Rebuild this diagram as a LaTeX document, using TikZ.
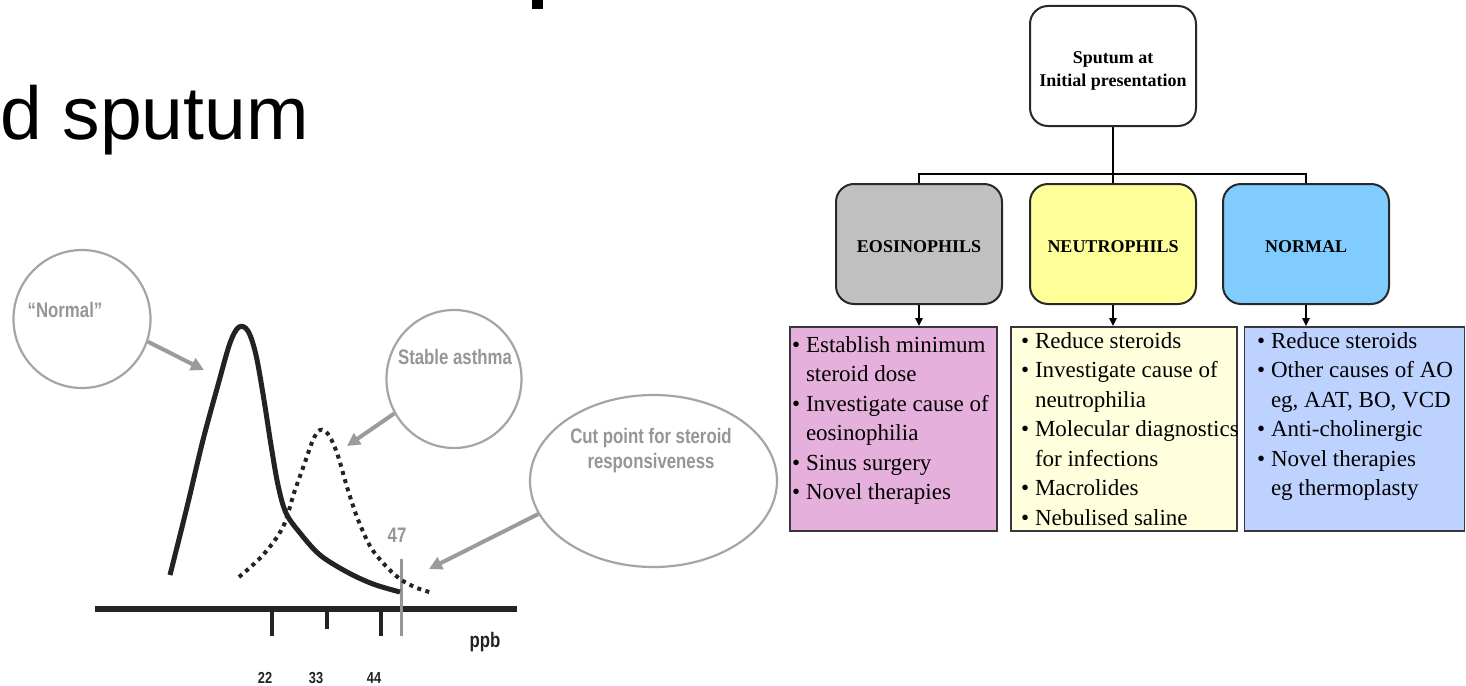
\documentclass[tikz,border=0pt]{standalone}
\usepackage{fontspec}
\setmainfont{Liberation Serif}
\newfontfamily\arialf{Liberation Sans}
\newfontfamily\narrowf[FakeStretch=0.8]{Liberation Sans}
\usetikzlibrary{arrows.meta,shapes.geometric}
\definecolor{bubgray}{RGB}{165,165,165}
\definecolor{arrgray}{RGB}{155,155,155}
\definecolor{labgray}{RGB}{150,150,150}
\definecolor{axdark}{RGB}{35,35,35}
\definecolor{boxline}{RGB}{40,40,40}
\definecolor{listline}{RGB}{55,55,60}
\definecolor{eosgray}{RGB}{192,192,192}
\definecolor{neuyellow}{RGB}{255,255,153}
\definecolor{norblue}{RGB}{128,204,255}
\definecolor{pinkbox}{RGB}{230,176,220}
\definecolor{paleyellow}{RGB}{255,255,221}
\definecolor{paleblue}{RGB}{190,210,255}
\newcommand\lbul{\textbullet\ }
\newcommand\lind{\hphantom{\textbullet\ }}
\newcommand\lowertxt[2]{\raisebox{-#1}[\height][\depth]{#2}}
\begin{document}
\begin{tikzpicture}[x=1pt,y=-1pt,
  bubble/.style={ellipse, draw=bubgray, line width=2.2pt, inner sep=0pt},
  garrow/.style={draw=arrgray, line width=4pt, -{Triangle[length=13pt,width=13pt]}},
  glabel/.style={font=\narrowf\bfseries\fontsize{21}{25}\selectfont, text=labgray, inner sep=0pt},
  axlabel/.style={font=\narrowf\bfseries\fontsize{16}{19}\selectfont, text=axdark, inner sep=0pt, anchor=base},
  flowbox/.style={draw=boxline, line width=2pt, rounded corners=18pt, minimum width=166pt, minimum height=120pt, align=center, font=\bfseries\fontsize{18}{23}\selectfont, inner sep=0pt},
  listbox/.style={draw=listline, line width=1.6pt, inner sep=0pt},
  listtext/.style={font=\fontsize{23}{29.5}\selectfont, inner sep=0pt, anchor=base west},
  conn/.style={line width=2.2pt, draw=black},
  downarrow/.style={line width=2pt, draw=black, -{Triangle[length=8pt,width=7pt]}},
  tickline/.style={line width=4pt, draw=axdark}
]
\fill[white] (0,0) rectangle (1466,685);
\useasboundingbox (0,0) rectangle (1466,685);

% title fragments
\node[anchor=base west, inner sep=0pt, font=\arialf\fontsize{75}{90}\selectfont] (title) at (0,139) {d sputum};
\fill[black] (532,0) rectangle (543,9);

% ---------- left chart ----------
\draw[line width=6pt, draw=axdark] (95,609) -- (517,609);
\draw[tickline] (272,609) -- (272,636);
\draw[tickline] (327,609) -- (327,629);
\draw[tickline] (381,609) -- (381,636);
\draw[draw=labgray, line width=3pt] (401,559) -- (401,636);

\draw[line width=5pt, line join=round, draw=axdark] plot[smooth, tension=0.55] coordinates {
 (170,575) (187,507) (203,440) (218,385) (230,343) (239,327) (248,331) (256,355)
 (264,400) (271,445) (278,485) (286,513) (300,533) (320,555) (347,572) (373,584) (400,592)};
\draw[line width=4pt, draw=axdark, dash pattern=on 4pt off 4.5pt] plot[smooth, tension=0.55] coordinates {
 (239,577) (263,555) (283,527) (294,493) (304,465) (313,440) (320,430) (328,434)
 (337,453) (347,487) (357,517) (370,546) (384,564) (400,579) (417,588) (433,593)};

\node[bubble, minimum width=137pt, minimum height=138pt] (normc) at (82,319) {};
\node[bubble, minimum width=135pt, minimum height=138pt] (stabc) at (454,379) {};
\node[bubble, minimum width=247pt, minimum height=172pt] (cutc) at (653.5,481) {};

\node[glabel, anchor=base] (normt) at (65,317) {“Normal”};
\node[glabel, anchor=base] (stabt) at (455,364) {Stable asthma};
\node[glabel, anchor=north, align=center, font=\narrowf\bfseries\fontsize{21}{25}\selectfont] (cutt) at (651,428) {Cut point for steroid\\responsiveness};
\node[glabel, anchor=base] (n47) at (397,542) {47};

\coordinate (normtip) at (204,370);
\coordinate (stabtip) at (347,446);
\coordinate (cuttip) at (429,569);
\draw[garrow] (normc.-19.5) -- (normtip);
\draw[garrow] (stabc.210.5) -- (stabtip);
\draw[garrow] (cutc.196.3) -- (cuttip);

\node[axlabel, font=\narrowf\bfseries\fontsize{21}{25}\selectfont] (ppb) at (485,647) {ppb};
\node[axlabel] (t22) at (265,683) {22};
\node[axlabel] (t33) at (316,683) {33};
\node[axlabel] (t44) at (374,683) {44};

% ---------- flowchart ----------
\node[flowbox, fill=white] (top) at (1113,66) {\lowertxt{4pt}{\begin{tabular}{@{}c@{}}Sputum at\\Initial presentation\end{tabular}}};
\node[flowbox, fill=eosgray] (eos) at (919,244) {\lowertxt{3pt}{EOSINOPHILS}};
\node[flowbox, fill=neuyellow] (neu) at (1113,244) {\lowertxt{3pt}{NEUTROPHILS}};
\node[flowbox, fill=norblue] (nor) at (1306,244) {\lowertxt{3pt}{NORMAL}};

\draw[conn] (top.south) -- ++(0,47) -| (eos.north);
\draw[conn] (top.south) -- ++(0,47) -| (nor.north);
\draw[conn] (top.south) -- (neu.north);

\node[listbox, fill=pinkbox, minimum width=207pt, minimum height=204pt] (l1) at (893.5,429) {};
\node[listbox, fill=paleyellow, minimum width=226pt, minimum height=204pt] (l2) at (1124,429) {};
\node[listbox, fill=paleblue, minimum width=220pt, minimum height=204pt] (l3) at (1354.5,429) {};

\draw[downarrow] (eos.south) -- (eos.south |- l1.north);
\draw[downarrow] (neu.south) -- (neu.south |- l2.north);
\draw[downarrow] (nor.south) -- (nor.south |- l3.north);

\node[listtext] (l1t) at (792,352) {\vtop{%
 \hbox{\lbul Establish minimum}
 \hbox{\lind steroid dose}
 \hbox{\lbul Investigate cause of}
 \hbox{\lind eosinophilia}
 \hbox{\lbul Sinus surgery}
 \hbox{\lbul Novel therapies}}};
\node[listtext] (l2t) at (1021,348) {\vtop{%
 \hbox{\lbul Reduce steroids}
 \hbox{\lbul Investigate cause of}
 \hbox{\lind neutrophilia}
 \hbox{\lbul Molecular diagnostics}
 \hbox{\lind for infections}
 \hbox{\lbul Macrolides}
 \hbox{\lbul Nebulised saline}}};
\node[listtext] (l3t) at (1257,348) {\vtop{%
 \hbox{\lbul Reduce steroids}
 \hbox{\lbul Other causes of AO}
 \hbox{\lind eg, AAT, BO, VCD}
 \hbox{\lbul Anti-cholinergic}
 \hbox{\lbul Novel therapies}
 \hbox{\lind eg thermoplasty}}};
\end{tikzpicture}
\end{document}
